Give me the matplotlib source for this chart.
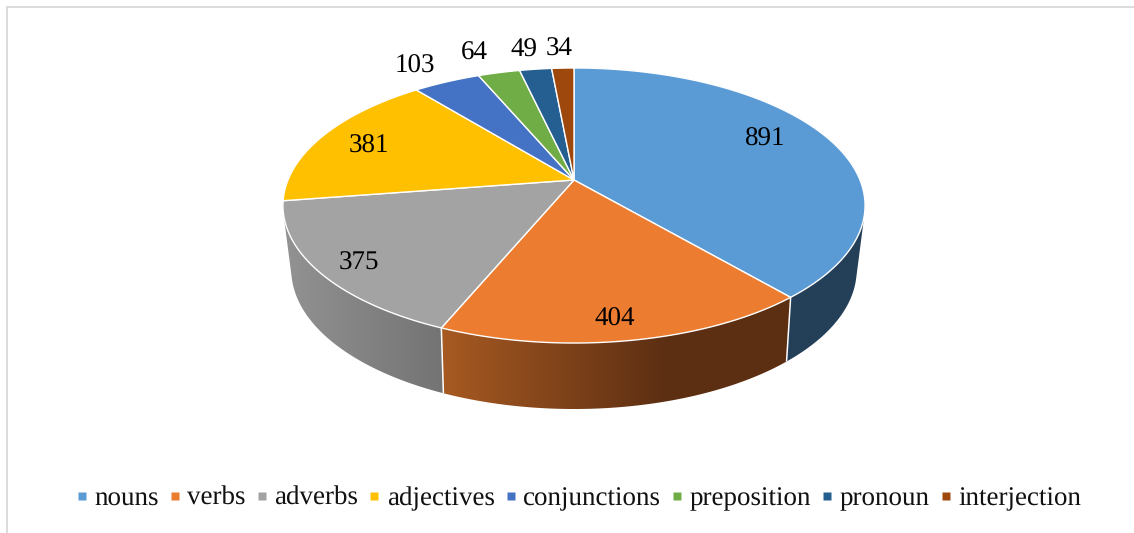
import numpy as np
import matplotlib
matplotlib.use("Agg")
import matplotlib.pyplot as plt
from matplotlib.lines import Line2D
from matplotlib.patches import Polygon

categories = ["nouns", "verbs", "adverbs", "adjectives", "conjunctions",
              "preposition", "pronoun", "interjection"]
values = [891, 404, 375, 381, 103, 64, 49, 34]
colors = ["#5B9BD5", "#EC7C30", "#A3A3A3", "#FFC000", "#4472C4", "#70AD47", "#255E91", "#9E480E"]

# label centres in pixel layout
label_x = [765, 615, 359, 369, 415, 474, 524, 559]
label_y = [139, 319, 263, 146, 66, 53, 50, 49]

# side shading: (screen x, colour) stops for the three visible slices
side_stops = [
    [(780, "#243F58"), (870, "#243F58")],
    [(440, "#A85A22"), (665, "#5D2F13"), (790, "#5C2E12")],
    [(280, "#939393"), (445, "#737373")],
]

plt.rcParams["font.family"] = ["Liberation Serif", "DejaVu Serif"]
plt.rcParams["text.hinting"] = "none"
plt.rcParams["text.hinting_factor"] = 1
FS = 19.2

fig = plt.figure(figsize=(11.34, 5.33), dpi=100)
ax = fig.add_axes([0, 0, 1, 1])
ax.axis("off")

CX = 574.0


def top_plane(theta):
    u, v = np.sin(theta), np.cos(theta)
    d = 1 + 0.1855 * v
    return CX + 286 * u / d, (180 - 99.4 * v) / d


def bottom_plane(theta):
    u, v = np.sin(theta), np.cos(theta)
    d = 1 + 0.2 * v
    return CX + 277 * u / d, (241.8 - 85.4 * v) / d


def convex_hull(points):
    pts = sorted(set(map(tuple, np.round(points, 3))))

    def half(seq):
        out = []
        for p in seq:
            while len(out) >= 2 and ((out[-1][0] - out[-2][0]) * (p[1] - out[-2][1])
                                     - (out[-1][1] - out[-2][1]) * (p[0] - out[-2][0])) <= 0:
                out.pop()
            out.append(p)
        return out[:-1]

    return np.array(half(pts) + half(pts[::-1]))


fractions = np.cumsum([0] + values) / np.sum(values)
angles = fractions * 2 * np.pi


def hex_rgb(h):
    return np.array(matplotlib.colors.to_rgb(h))


# sides: the last visible slice wraps round the left silhouette of the disc
for i, stops in enumerate(side_stops):
    end = angles[i + 1] if i < 2 else np.radians(285)
    th = np.linspace(angles[i], end, 200)
    xt, yt = top_plane(th)
    xb, yb = bottom_plane(th)
    poly = convex_hull(np.column_stack([np.r_[xt, xb], np.r_[yt, yb]]))
    x0, x1 = poly[:, 0].min() - 2, poly[:, 0].max() + 2
    y0, y1 = poly[:, 1].min() - 2, poly[:, 1].max() + 2
    xs = np.linspace(x0, x1, 256)
    sx = [s[0] for s in stops]
    sc = np.array([hex_rgb(s[1]) for s in stops])
    grad = np.stack([np.interp(xs, sx, sc[:, k]) for k in range(3)], axis=-1)[None, :, :]
    im = ax.imshow(grad, extent=(x0, x1, y1, y0), aspect="auto",
                   interpolation="bilinear", zorder=1 + i * 0.1)
    im.set_clip_path(Polygon(poly, closed=True, transform=ax.transData))

# side separators
for a in angles[1:3]:
    xt, yt = top_plane(a)
    xb, yb = bottom_plane(a)
    ax.plot([xt, xb], [yt, yb], color="white", lw=1.1, zorder=2, solid_capstyle="butt")

# top faces
for i, c in enumerate(colors):
    th = np.linspace(angles[i], angles[i + 1], 200)
    xt, yt = top_plane(th)
    pts = np.column_stack([np.r_[CX, xt], np.r_[180, yt]])
    ax.add_patch(Polygon(pts, closed=True, facecolor=c, edgecolor="white",
                         linewidth=1.0, joinstyle="round", zorder=3))

# data labels
for v, x, y in zip(values, label_x, label_y):
    ax.text(x, y, str(v), fontsize=FS, ha="center", va="center", color="black", zorder=5)

# chart frame
ax.plot([6.5, 6.5, 1134], [533, 6.5, 6.5], color="#D9D9D9", lw=1.3, zorder=0,
        solid_joinstyle="miter")

handles = [Line2D([], [], linestyle="none", marker="s", markersize=5.8,
                  markerfacecolor=c, markeredgecolor="none") for c in colors]
leg = ax.legend(handles, categories, ncol=len(categories), loc="center",
                bbox_to_anchor=(579.5 / 1134, 1 - 498.5 / 533), bbox_transform=fig.transFigure,
                frameon=False, fontsize=FS, handlelength=0.3, handletextpad=0.32,
                handleheight=0.5, columnspacing=0.45, borderpad=0, borderaxespad=0,
                labelcolor="#111111")

ax.set_xlim(0, 1134)
ax.set_ylim(533, 0)
fig.savefig("out.png", dpi=100, facecolor="white")
